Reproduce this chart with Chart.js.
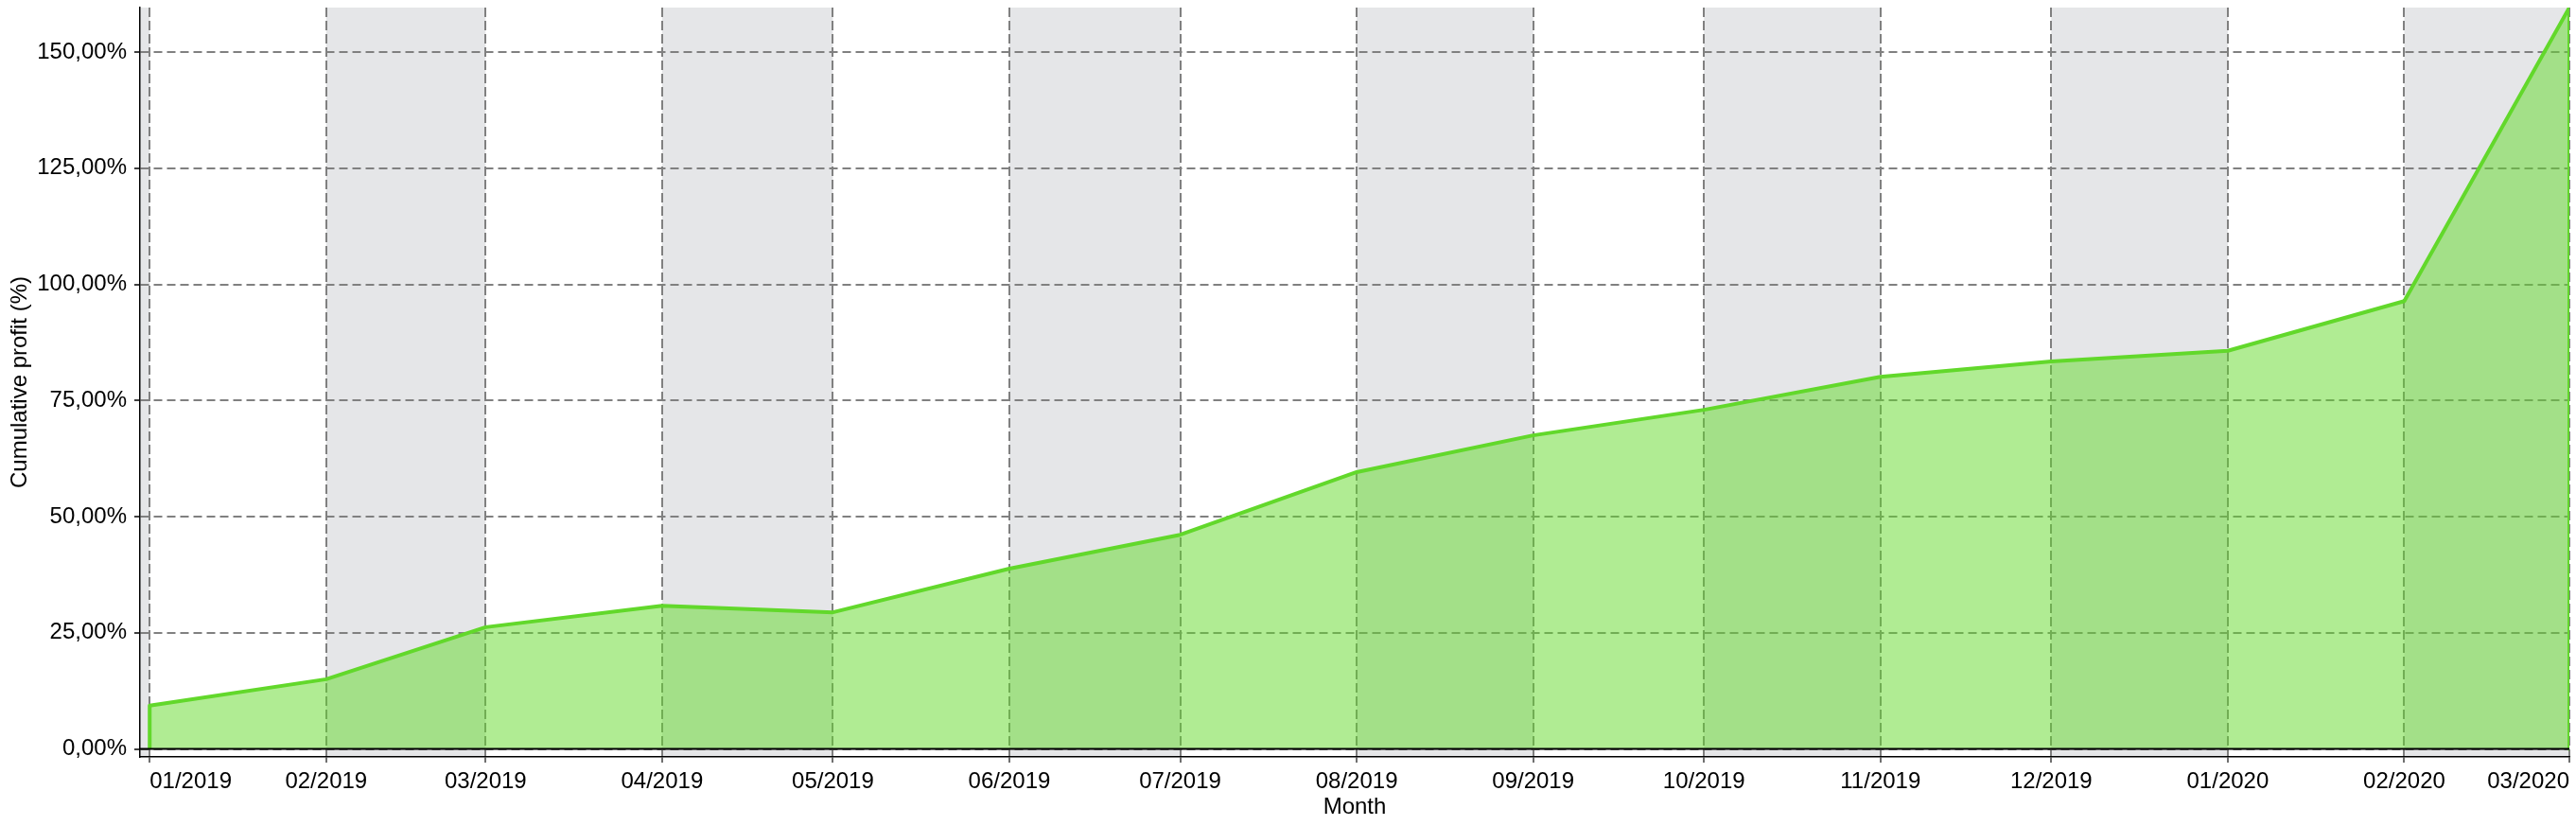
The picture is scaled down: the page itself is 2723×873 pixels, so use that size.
<!DOCTYPE html>
<html>
<head>
<meta charset="utf-8">
<title>Cumulative profit</title>
<script src="https://cdn.jsdelivr.net/npm/chart.js@4/dist/chart.umd.min.js"></script>
<style>
  html, body { margin: 0; padding: 0; background: #fff; }
  #wrap { width: 2723px; height: 873px; position: relative; }
</style>
</head>
<body>
<div id="wrap"><canvas id="profitChart"></canvas></div>
<script>
// month ticks, as days since 01/2019
const monthLabels = ["01/2019", "02/2019", "03/2019", "04/2019", "05/2019", "06/2019", "07/2019",
  "08/2019", "09/2019", "10/2019", "11/2019", "12/2019", "01/2020", "02/2020", "03/2020"];
const monthDays = [0, 31, 59, 90, 120, 151, 181, 212, 243, 273, 304, 334, 365, 396, 425];
const profitValues = [9.3, 15.0, 26.2, 30.8, 29.4, 38.8, 46.1, 59.6, 67.5, 73.0, 80.1, 83.4, 85.7, 96.4, 159.6];
const yTickValues = [0, 25, 50, 75, 100, 125, 150];
const xRange = [-1.7, 425];
const yRange = [-1.73, 159.6];

const lineColor = "#62d82b";
const fillColor = "rgba(98, 218, 40, 0.5)";
const bandColor = "#e5e6e8";
const gridColor = "#808080";

Chart.defaults.font.family = "'Liberation Sans', Arial, sans-serif";
Chart.defaults.font.size = 24;
Chart.defaults.color = "#000";

function formatPercent(v) {
  return v.toFixed(2).replace(".", ",") + "%";
}

// grey shading for every even month
const monthBands = {
  id: "monthBands",
  beforeDraw(chart) {
    const { ctx, chartArea, scales } = chart;
    const x = scales.x;
    function shade(a, b) {
      const l = x.getPixelForValue(Math.max(a, xRange[0]));
      const r = x.getPixelForValue(Math.min(b, xRange[1]));
      ctx.fillRect(l, chartArea.top, r - l, chartArea.bottom - chartArea.top);
    }
    ctx.save();
    ctx.fillStyle = bandColor;
    if (parseInt(monthLabels[0].slice(0, 2), 10) % 2 === 1) shade(xRange[0], monthDays[0]);
    monthLabels.forEach((label, i) => {
      const m = parseInt(label.slice(0, 2), 10);
      if (m % 2 === 0) {
        const end = i + 1 < monthDays.length ? monthDays[i + 1] : xRange[1];
        shade(monthDays[i], end);
      }
    });
    ctx.restore();
  }
};

const areaPoints = [{ x: monthDays[0], y: 0 }]
  .concat(monthDays.map((d, i) => ({ x: d, y: profitValues[i] })))
  .concat([{ x: monthDays[monthDays.length - 1], y: 0 }]);

const zeroLine = [{ x: xRange[0], y: 0 }, { x: xRange[1], y: 0 }];

new Chart(document.getElementById("profitChart"), {
  type: "line",
  data: {
    datasets: [
      {
        label: "zero",
        data: zeroLine,
        borderColor: "#000",
        borderWidth: 2,
        pointRadius: 0,
        fill: false
      },
      {
        label: "Cumulative profit (%)",
        data: areaPoints,
        borderColor: lineColor,
        backgroundColor: fillColor,
        borderWidth: 4,
        borderJoinStyle: "round",
        pointRadius: 0,
        tension: 0,
        fill: "origin"
      }
    ]
  },
  options: {
    responsive: true,
    maintainAspectRatio: false,
    animation: false,
    layout: { padding: { top: 8, right: 7, left: 0, bottom: 0 } },
    plugins: {
      legend: { display: false },
      tooltip: { enabled: false }
    },
    scales: {
      x: {
        type: "linear",
        min: xRange[0],
        max: xRange[1],
        afterBuildTicks(scale) {
          scale.ticks = monthDays.map((d) => ({ value: d }));
        },
        afterFit(scale) {
          scale.height = 73;
          scale.paddingLeft = 0;
          scale.paddingRight = 0;
        },
        ticks: {
          autoSkip: false,
          maxRotation: 0,
          align: "inner",
          padding: 6,
          callback: (value, index) => monthLabels[index]
        },
        grid: {
          color: gridColor,
          lineWidth: 2,
          tickColor: "#707070",
          tickLength: 6,
          tickWidth: 2
        },
        border: { color: "#000", width: 1.5, dash: [10, 4] },
        title: {
          display: true,
          text: "Month",
          padding: { top: 0, bottom: 5 }
        }
      },
      y: {
        min: yRange[0],
        max: yRange[1],
        afterBuildTicks(scale) {
          scale.ticks = yTickValues.map((v) => ({ value: v }));
        },
        afterFit(scale) {
          scale.width = 148;
          scale.paddingTop = 0;
          scale.paddingBottom = 0;
        },
        ticks: {
          padding: 8,
          callback: (value) => formatPercent(value)
        },
        grid: {
          color: gridColor,
          lineWidth: 2,
          tickColor: "#000",
          tickLength: 6,
          tickWidth: 1.5
        },
        border: { color: "#000", width: 1.5, dash: [9, 5] },
        title: {
          display: true,
          text: "Cumulative profit (%)",
          padding: { top: 7, bottom: 0 }
        }
      }
    }
  },
  plugins: [monthBands]
});
</script>
</body>
</html>
